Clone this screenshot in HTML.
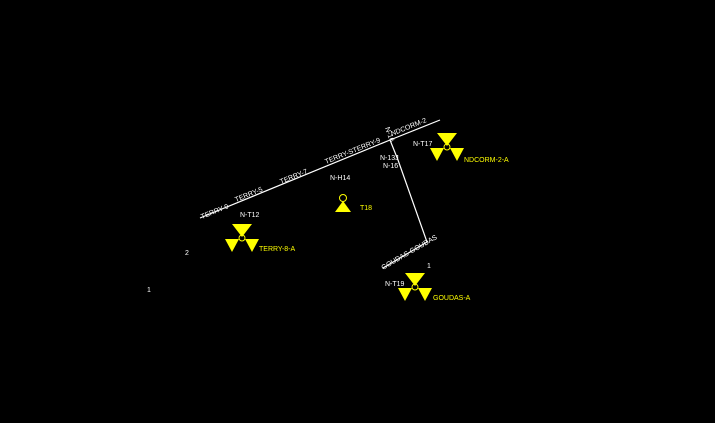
<!DOCTYPE html>
<html><head><style>
html,body{margin:0;padding:0;background:#000;}
svg{display:block}
text{font-family:"Liberation Sans",sans-serif;font-size:7px;}
</style></head><body>
<svg width="715" height="423" viewBox="0 0 715 423">
<defs>
<g id="rad">
<polygon points="-10,-14 10,-14 0,-1" fill="#ff0"/>
<polygon points="-17,1 -3,1 -10,14" fill="#ff0"/>
<polygon points="3,1 17,1 10,14" fill="#ff0"/>
<circle cx="0" cy="0" r="3" fill="none" stroke="#ff0" stroke-width="1"/>
</g>
</defs>
<g stroke="#fff" stroke-width="1.2" fill="none">
<polyline points="200,218 390,140 440,120"/>
<polyline points="390,140 398,160 427,242 383,268"/>
</g>
<g fill="#fff">
<text x="202" y="219" transform="rotate(-22 202 219)">TERRY-9</text>
<text x="236" y="202" transform="rotate(-22 236 202)">TERRY-5</text>
<text x="281" y="184" transform="rotate(-22 281 184)">TERRY-7</text>
<text x="326" y="164" transform="rotate(-22 326 164)">TERRY-STERRY-9</text>
<text x="392" y="136" transform="rotate(-22 392 136)">NDCORM-2</text>
<text x="385" y="128" transform="rotate(70 385 128)">N-16</text>
<text x="380" y="160">N-13J</text>
<text x="383" y="168">N-16</text>
<text x="330" y="180">N-H14</text>
<text x="240" y="217">N-T12</text>
<text x="413" y="146">N-T17</text>
<text x="385" y="286">N-T19</text>
<text x="383" y="270" transform="rotate(-30 383 270)">GOUDAS-GOUDAS</text>
<text x="185" y="255">2</text>
<text x="147" y="292">1</text>
<text x="427" y="268">1</text>
</g>
<use href="#rad" x="242" y="238"/>
<use href="#rad" x="447" y="147"/>
<use href="#rad" x="415" y="287"/>
<circle cx="343" cy="198" r="3.5" fill="none" stroke="#ff0"/>
<polygon points="335,212 351,212 343,201" fill="#ff0"/>
<g fill="#ff0">
<text x="259" y="251">TERRY-8-A</text>
<text x="464" y="162">NDCORM-2-A</text>
<text x="433" y="300">GOUDAS-A</text>
<text x="360" y="210">T18</text>
</g>
</svg>
</body></html>
